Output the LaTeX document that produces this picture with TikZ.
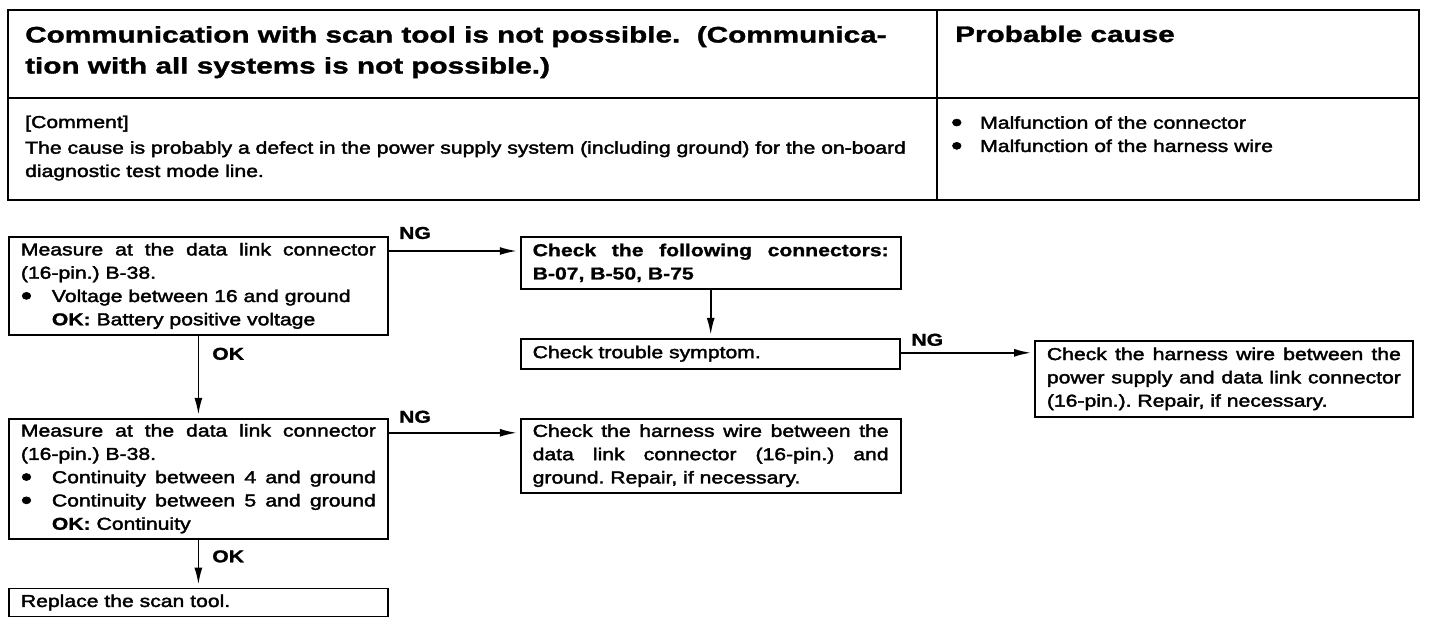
\documentclass[tikz,border=0pt]{standalone}
\usepackage{fontspec}
\setmainfont{Liberation Sans}[FakeStretch=1.23, UprightFeatures={FakeBold=2.2}, BoldFeatures={FakeBold=1.2}]
\newfontfamily\headfont{Liberation Sans}[FakeStretch=1.32, BoldFeatures={FakeBold=1.5}]
\usepackage{tikz}
\usetikzlibrary{positioning, arrows.meta}
\frenchspacing
\newcommand{\itemdot}{\makebox[31pt][l]{\raisebox{-2.5pt}{\fontsize{26}{0}\selectfont\textbullet}}}

\begin{document}
\begin{tikzpicture}[x=1pt, y=-1pt,
    stepbox/.style={rectangle, draw, line width=1.8pt, inner xsep=12pt, inner ysep=0pt, align=justify, font=\fontsize{17.2}{23.3}\selectfont},
    plain/.style={inner sep=0pt, align=left, font=\fontsize{17.2}{23.3}\selectfont},
    tag/.style={inner sep=0pt, font=\fontsize{17.2}{20}\selectfont\bfseries},
    link/.style={line width=1.8pt, -{Latex[length=17pt, width=8pt]}, shorten >=3pt}]

  \useasboundingbox (0,0) rectangle (1440,626);

  % table at the top
  \draw[line width=2.6pt] (8,10) rectangle (1419,200);
  \draw[line width=1.8pt] (8,98) -- (1419,98);
  \draw[line width=1.8pt] (937,10) -- (937,200);

  \node[plain, anchor=north west, font=\fontsize{22.5}{31}\selectfont\headfont\bfseries] (titleNode) at (25,26) {Communication with scan tool is not possible.\ \ (Communica-\\tion with all systems is not possible.)};
  \node[plain, anchor=base west, font=\fontsize{22.5}{31}\selectfont\headfont\bfseries] (causeHead) at (955,42) {Probable cause};
  \node[plain, anchor=base west] (commentNode) at (25,128) {[Comment]};
  \node[plain, anchor=north west] (reasonNode) at (25,141) {The cause is probably a defect in the power supply system (including ground) for the on-board\\diagnostic test mode line.};
  \node[plain, anchor=north west] (itemNode) at (951,116) {\makebox[29pt][l]{\raisebox{-2.5pt}{\fontsize{26}{0}\selectfont\textbullet}}Malfunction of the connector\\\makebox[29pt][l]{\raisebox{-2.5pt}{\fontsize{26}{0}\selectfont\textbullet}}Malfunction of the harness wire};

  % flow chart
  \node[stepbox, text width=355pt, minimum height=98pt, anchor=north west] (measureNode) at (8,236) {Measure at the data link connector\linebreak (16-pin.) B-38.\\ \itemdot Voltage between 16 and ground\\ \hspace*{31pt}\textbf{OK:} Battery positive voltage};
  \node[stepbox, text width=356pt, minimum height=52pt, font=\fontsize{17.2}{23.3}\selectfont\bfseries] (connNode) [right=131pt of measureNode.north east, anchor=north west] {Check the following connectors:\linebreak B-07, B-50, B-75};
  \node[stepbox, text width=355pt, minimum height=30pt] (symptomNode) [below=48pt of connNode.south west, anchor=north west] {Check trouble symptom.};
  \node[stepbox, text width=354pt, minimum height=76pt, anchor=north west] (powerNode) at (1034,340) {Check the harness wire between the\linebreak power supply and data link connector\linebreak (16-pin.). Repair, if necessary.};
  \node[stepbox, text width=355pt, minimum height=120pt] (contNode) [below=82pt of measureNode.south west, anchor=north west] {Measure at the data link connector\linebreak (16-pin.) B-38.\\ \itemdot Continuity between 4 and ground\linebreak \itemdot Continuity between 5 and ground\linebreak \hspace*{31pt}\textbf{OK:} Continuity};
  \node[stepbox, text width=356pt, minimum height=74pt] (groundNode) [right=131pt of contNode.north east, anchor=north west] {Check the harness wire between the\linebreak data link connector (16-pin.) and\linebreak ground. Repair, if necessary.};
  \node[stepbox, text width=355pt, minimum height=28pt] (replaceNode) [below=48pt of contNode.south west, anchor=north west] {Replace the scan tool.};

  \draw[link] ([yshift=-15pt]measureNode.north east) -- ([yshift=-15pt]connNode.north west) node[tag, pos=0.2, above=11pt] {NG};
  \draw[link] (connNode.south) -- (connNode.south |- symptomNode.north);
  \coordinate (ngPoint) at ([yshift=-15pt]symptomNode.north east);
  \draw[link] (ngPoint) -- (ngPoint -| powerNode.west) node[tag, pos=0.2, above=6pt] {NG};
  \draw[link] (measureNode.south) -- (contNode.north) node[tag, pos=0.22, right=13pt] {OK};
  \draw[link] ([yshift=-15pt]contNode.north east) -- ([yshift=-15pt]groundNode.north west) node[tag, pos=0.2, above=9pt] {NG};
  \draw[link] (contNode.south) -- (replaceNode.north) node[tag, pos=0.35, right=13pt] {OK};
\end{tikzpicture}
\end{document}
